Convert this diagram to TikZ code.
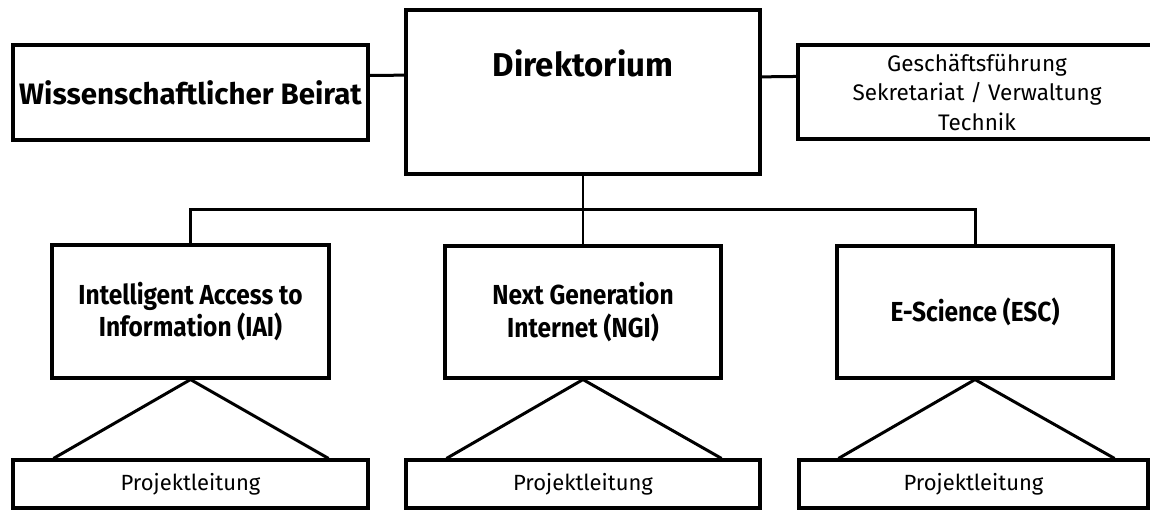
\documentclass[tikz,border=0pt]{standalone}
\usepackage{fontspec}
\setmainfont{Fira Sans}
\newfontfamily\narrowbold[FakeStretch=0.89]{Fira Sans Bold}
\usetikzlibrary{calc}
\tikzset{
  box/.style={draw=black, line width=3.1pt, rectangle, inner sep=0pt, align=center},
  bigbox/.style={box, line width=4.2pt},
  conn/.style={draw=black, line width=3pt},
  thinconn/.style={draw=black, line width=2.6pt},
  unitbold/.style={font=\fontsize{27.5}{32.5}\selectfont\narrowbold},
  plain/.style={font=\fontsize{22}{26}\selectfont},
}
\begin{document}
\begin{tikzpicture}[x=1pt,y=-1pt]
\useasboundingbox[fill=white] (0,0) rectangle (1150,510);
% top row
\node[box, minimum width=355pt, minimum height=95pt, font=\fontsize{29.5}{34}\selectfont\bfseries] (wiss) at (190.5,92.5) {Wissenschaftlicher Beirat};
\node[bigbox, minimum width=354pt, minimum height=164pt] (dir) at (583,92) {};
\node[font=\fontsize{33}{38}\selectfont\bfseries] (dirt) at ($(dir.center)+(0,-29)$) {Direktorium};
\node[box, minimum width=358pt, minimum height=94pt, font=\fontsize{22.5}{29.5}\selectfont] (gf) at (977,92) {Geschäftsführung\\Sekretariat / Verwaltung\\Technik};
% middle row
\node[box, minimum width=277pt, minimum height=133pt, unitbold] (iai) at (190.5,311.5) {Intelligent Access to\\Information (IAI)};
\node[box, minimum width=276pt, minimum height=132pt, unitbold] (ngi) at (583,312) {Next Generation\\Internet (NGI)};
\node[box, minimum width=276pt, minimum height=132pt, unitbold] (esc) at (975,312) {E-Science (ESC)};
% bottom row
\node[box, minimum width=355pt, minimum height=48pt, plain] (p1) at (190.5,484) {Projektleitung};
\node[box, minimum width=354pt, minimum height=48pt, plain] (p2) at (583,484) {Projektleitung};
\node[box, minimum width=349pt, minimum height=48pt, plain] (p3) at (973.5,484) {Projektleitung};
% connectors top
\draw[conn] ($(wiss.north east)!0.326!(wiss.south east)$) -- ($(dir.north west)!0.4!(dir.south west)$);
\draw[conn] ($(dir.north east)!0.41!(dir.south east)$) -- ($(gf.north west)!0.34!(gf.south west)$);
% bus
\coordinate (bus) at (0,210);
\draw[thinconn] (dir.south) -- (ngi.north);
\draw[conn] (iai.north) -- (iai.north |- bus) -- (esc.north |- bus) -- (esc.north);
% triangles
\draw[conn] ($(p1.north west)+(42,0)$) -- (iai.south) -- ($(p1.north east)+(-41,0)$);
\draw[conn] ($(p2.north west)+(42,0)$) -- (ngi.south) -- ($(p2.north east)+(-40,0)$);
\draw[conn] ($(p3.north west)+(41,0)$) -- (esc.south) -- ($(p3.north east)+(-35,0)$);
\end{tikzpicture}
\end{document}
